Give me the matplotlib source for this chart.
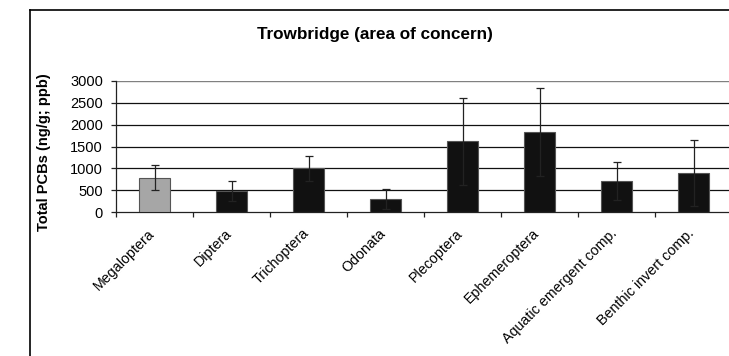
import numpy as np
import matplotlib.pyplot as plt
import matplotlib.transforms as mtransforms
from matplotlib.lines import Line2D

plt.rcParams['font.family'] = ['Liberation Sans', 'DejaVu Sans']

# data
taxa = ['Megaloptera', 'Diptera', 'Trichoptera', 'Odonata', 'Plecoptera',
        'Ephemeroptera', 'Aquatic emergent comp.', 'Benthic invert comp.']
pcb = [790, 490, 1000, 295, 1620, 1830, 715, 905]
err = [290, 225, 290, 228, 990, 1000, 440, 750]
fill = ['#a6a6a6', '#111111', '#111111', '#111111', '#111111', '#111111', '#111111', '#111111']
yticks = [0, 500, 1000, 1500, 2000, 2500, 3000]

fig = plt.figure(figsize=(7.29, 3.56), dpi=100)
ax = fig.add_axes([116/729, 1 - 212.3/356, 616/729, 131.6/356])

x = np.arange(len(taxa))
ax.bar(x, pcb, width=0.41, color=fill, edgecolor='#555555', linewidth=0.8, zorder=3)
ax.errorbar(x, pcb, yerr=err, fmt='none', ecolor='#222222', elinewidth=0.9,
            capsize=3, capthick=0.9, zorder=4)

ax.set_xlim(-0.5, len(taxa) - 0.5)
ax.set_ylim(0, 3000)
ax.set_yticks(yticks)
ax.set_yticklabels([str(v) for v in yticks], fontsize=10.5)
for v in yticks[1:-1]:
    ax.axhline(v, color='#111111', lw=0.9, zorder=1)
ax.axhline(3000, color='#808080', lw=1.0, zorder=1)

# category boundary ticks
ax.set_xticks(np.arange(len(taxa) + 1) - 0.5)
ax.set_xticklabels([])
ax.tick_params(axis='x', length=3.5, width=0.9, color='#222222', direction='out')
ax.tick_params(axis='y', length=3.8, width=0.9, color='#222222', direction='out', pad=5.5)
ax.set_xticks(x, minor=True)
ax.set_xticklabels(taxa, minor=True, rotation=45, ha='right', va='top',
                   rotation_mode='anchor', fontsize=10.3)
ax.tick_params(axis='x', which='minor', length=0, pad=10)
shift = mtransforms.ScaledTranslation(-5/72, 0, fig.dpi_scale_trans)
for lab in ax.get_xticklabels(minor=True):
    lab.set_transform(lab.get_transform() + shift)

for s in ['top', 'right']:
    ax.spines[s].set_visible(False)
ax.spines['left'].set_color('#222222')
ax.spines['bottom'].set_color('#222222')
ax.spines['left'].set_linewidth(0.9)
ax.spines['bottom'].set_linewidth(0.9)

fig.text(375/729, 1 - 34/356, 'Trowbridge (area of concern)', ha='center', va='center',
         fontsize=12.3, fontweight='bold')
fig.text(44/729, 1 - 152/356, 'Total PCBs (ng/g; ppb)', rotation=90, ha='center',
         va='center', fontsize=10.5, fontweight='bold')

# outer chart border (left and top edges visible)
by = 1 - 9.5/356
bx = 29.5/729
fig.add_artist(Line2D([bx, bx], [0, by], transform=fig.transFigure, color='black', lw=1.2))
fig.add_artist(Line2D([bx, 1], [by, by], transform=fig.transFigure, color='black', lw=1.2))

fig.savefig('out.png', dpi=100)
